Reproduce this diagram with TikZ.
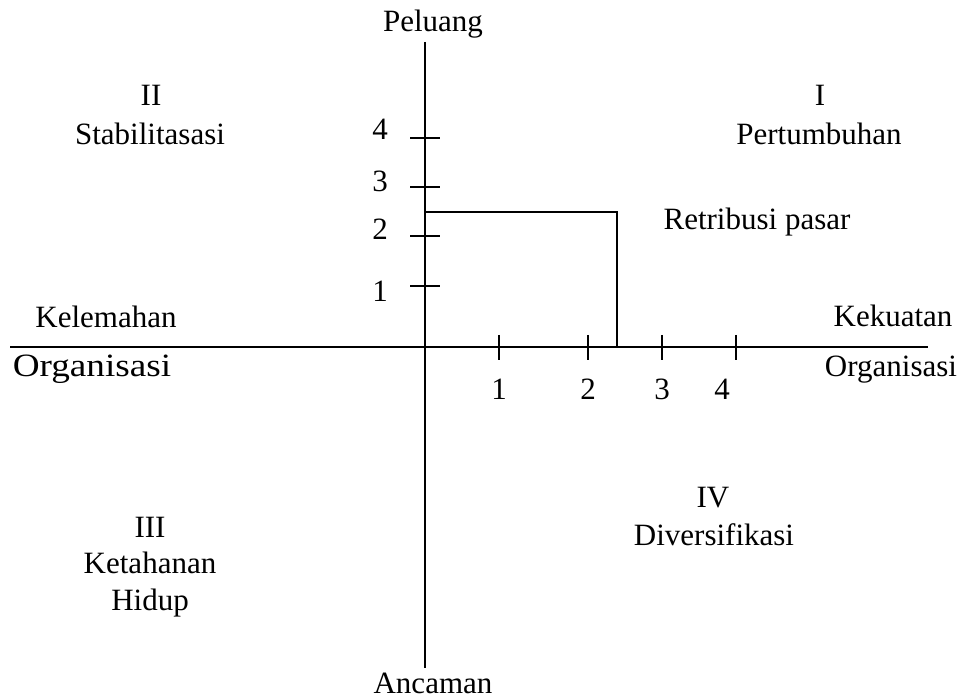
\documentclass[tikz,border=0pt]{standalone}
\usepackage{fontspec}
\setmainfont{Liberation Serif}
\begin{document}
\begin{tikzpicture}[x=1pt,y=-1pt,
  axis/.style={line width=1.6pt,black},
  tick/.style={line width=1.6pt,black},
  lbl/.style={anchor=base,inner sep=0pt,font=\fontsize{31}{37}\selectfont},
  box/.style={line width=1.6pt,black}]
\useasboundingbox (0,0) rectangle (964,700);
% axes
\coordinate (top) at (425,42);
\coordinate (bot) at (425,668);
\coordinate (left) at (10,347);
\coordinate (right) at (928,347);
\coordinate (O) at (425,347);
\draw[axis] (top) -- (bot);
\draw[axis] (left) -- (right);
% y ticks
\foreach \n/\y in {4/138,3/187,2/236,1/286}{
  \coordinate (yt\n a) at (410,\y);
  \coordinate (yt\n b) at (440,\y);
  \draw[tick] (yt\n a) -- (yt\n b);
}
% x ticks
\foreach \n/\x in {1/499,2/588,3/662,4/736}{
  \coordinate (xt\n a) at (\x,335);
  \coordinate (xt\n b) at (\x,360);
  \draw[tick] (xt\n a) -- (xt\n b);
}
% position box
\coordinate (p1) at (425,212);
\coordinate (p2) at (617,212);
\coordinate (p3) at (617,347);
\draw[box] (p1) -- (p2) -- (p3);
% y labels
\node[lbl] (y4) at (380,140) {4};
\node[lbl] (y3) at (380,192) {3};
\node[lbl] (y2) at (380,240) {2};
\node[lbl] (y1) at (380,302) {1};
% x labels
\node[lbl] (x1) at (499,400) {1};
\node[lbl] (x2) at (588,400) {2};
\node[lbl] (x3) at (662,400) {3};
\node[lbl] (x4) at (722,400) {4};
% axis labels
\node[lbl] (pel) at (433,32) {Peluang};
\node[lbl] (anc) at (433,693) {Ancaman};
\node[lbl] (kel) at (106,328) {Kelemahan};
\node[lbl] (orgL) at (92,377) {\scalebox{1.2}[1.05]{Organisasi}};
\node[lbl] (kek) at (893,327) {Kekuatan};
\node[lbl] (orgR) at (891,377) {Organisasi};
% quadrants
\node[lbl] (q2a) at (151,106) {II};
\node[lbl] (q2b) at (150,145) {Stabilitasasi};
\node[lbl] (q1a) at (820,106) {I};
\node[lbl] (q1b) at (819,145) {Pertumbuhan};
\node[lbl] (ret) at (757,230) {Retribusi pasar};
\node[lbl] (q4a) at (713,507) {IV};
\node[lbl] (q4b) at (714,545) {Diversifikasi};
\node[lbl] (q3a) at (150,537) {III};
\node[lbl] (q3b) at (150,573) {Ketahanan};
\node[lbl] (q3c) at (150,610) {Hidup};
\end{tikzpicture}
\end{document}
